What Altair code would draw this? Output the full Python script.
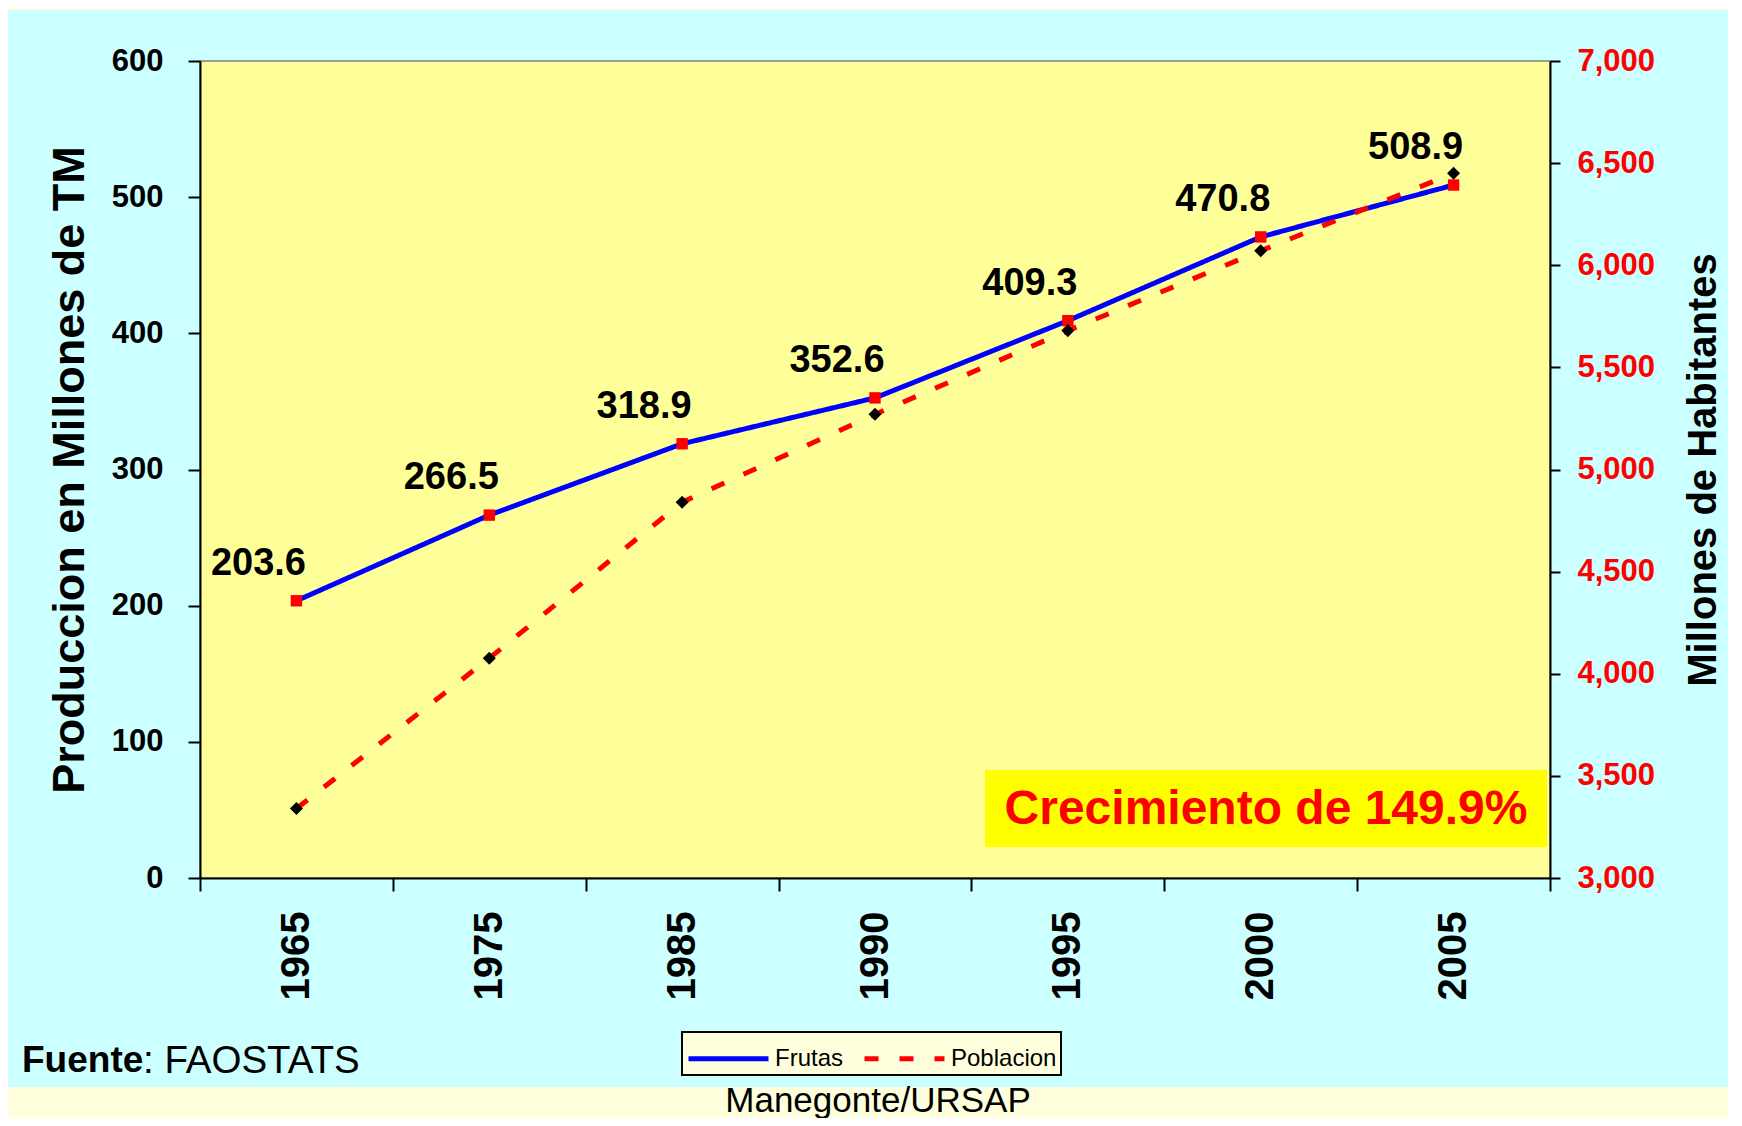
import altair as alt
import pandas as pd

years = ["1965", "1975", "1985", "1990", "1995", "2000", "2005"]
frutas = [203.6, 266.5, 318.9, 352.6, 409.3, 470.8, 508.9]
poblacion = [3340, 4076, 4840, 5270, 5680, 6071, 6450]
series = ["Frutas", "Poblacion"]
left_ticks = [0, 100, 200, 300, 400, 500, 600]
right_ticks = [3000, 3500, 4000, 4500, 5000, 5500, 6000, 6500, 7000]

FONT = "Liberation Sans"
OUTER = "#FFFFDD"
CYAN = "#CCFFFF"
PLOT = "#FFFF99"

W, H = 1350, 817
TOTAL_H = 1110

df_f = pd.DataFrame({"year": years, "valor": frutas, "serie": "Frutas",
                     "label": [f"{v:.1f}" for v in frutas]})
df_p = pd.DataFrame({"year": years, "valor": poblacion, "serie": "Poblacion"})
one = pd.DataFrame({"k": [0]})

xaxis = alt.Axis(orient="bottom", title=None, labelAngle=270, labelFont=FONT,
                 labelFontSize=40, labelFontWeight="bold", labelColor="black",
                 labelPadding=20, tickSize=13, tickWidth=2, tickColor="black",
                 domainColor="black", domainWidth=2, tickBand="extent",
                 grid=False, zindex=1)
xscale = alt.Scale(type="band", domain=years, paddingInner=0, paddingOuter=0)


def X():
    return alt.X("year:O", scale=xscale, axis=xaxis, bandPosition=0.5)


yaxis_l = alt.Axis(orient="left", values=left_ticks, format="d", labelFont=FONT,
                   labelFontSize=31, labelFontWeight="bold", labelColor="black",
                   labelPadding=25, tickSize=12, tickWidth=2, tickColor="black",
                   domainColor="black", domainWidth=2, grid=False,
                   title="Produccion en Millones de TM", titleFont=FONT,
                   titleFontSize=45, titleFontWeight="bold", titleColor="black",
                   titleAngle=270, titleX=-131, titleY=H / 2, titleAlign="center",
                   titleBaseline="middle", zindex=1)
yaxis_r = alt.Axis(orient="right", values=right_ticks, format=",.0f", labelFont=FONT,
                   labelFontSize=31, labelFontWeight="bold", labelColor="#FF0000",
                   labelPadding=17, tickSize=10, tickWidth=2, tickColor="black",
                   domainColor="black", domainWidth=2, grid=False,
                   title="Millones de Habitantes", titleFont=FONT,
                   titleFontSize=40, titleFontWeight="bold", titleColor="black",
                   titleAngle=270, titleX=153, titleY=H / 2, titleAlign="center",
                   titleBaseline="middle", zindex=1)

yl = alt.Y("valor:Q", scale=alt.Scale(domain=[0, 600], nice=False, zero=False), axis=yaxis_l)
yr = alt.Y("valor:Q", scale=alt.Scale(domain=[3000, 7000], nice=False, zero=False), axis=yaxis_r)

leg = alt.Legend(orient="none", legendX=482, legendY=971, direction="horizontal",
                 title=None, fillColor=OUTER, strokeColor="black",
                 padding=4, labelFont=FONT, labelFontSize=24, labelColor="black",
                 symbolType="M-1,0H3", symbolSize=1600, symbolStrokeWidth=5,
                 labelOffset=44, columnPadding=10, zindex=2)
color = alt.Color("serie:N", scale=alt.Scale(domain=series, range=["#0000FF", "#FF0000"]), legend=leg)
dash = alt.StrokeDash("serie:N", scale=alt.Scale(domain=series, range=[[1, 0], [14, 21]]), legend=leg)

bg_cyan = alt.Chart(one).mark_rect(color=CYAN).encode(
    x=alt.value(-193), x2=alt.value(1530), y=alt.value(-51), y2=alt.value(1026))
bg_plot = alt.Chart(one).mark_rect(color=PLOT, stroke="#808080", strokeWidth=1.5).encode(
    x=alt.value(0), x2=alt.value(W), y=alt.value(0), y2=alt.value(H))
box = alt.Chart(one).mark_rect(color="#FFFF00").encode(
    x=alt.value(785), x2=alt.value(1347), y=alt.value(709), y2=alt.value(786))
box_txt = alt.Chart(one).mark_text(font=FONT, fontSize=48, fontWeight="bold",
                                   color="#FF0000", align="center", baseline="middle").encode(
    x=alt.value(1066), y=alt.value(749), text=alt.value("Crecimiento de 149.9%"))
fuente_b = alt.Chart(one).mark_text(font=FONT, fontSize=37, fontWeight="bold",
                                    color="black", align="left", baseline="middle").encode(
    x=alt.value(-178), y=alt.value(1000), text=alt.value("Fuente"))
fuente_n = alt.Chart(one).mark_text(font=FONT, fontSize=38.5, color="black",
                                    align="left", baseline="middle").encode(
    x=alt.value(-57), y=alt.value(1000), text=alt.value(": FAOSTATS"))
autor = alt.Chart(one).mark_text(font=FONT, fontSize=35, color="black",
                                 align="center", baseline="alphabetic").encode(
    x=alt.value(678), y=alt.value(1051), text=alt.value("Manegonte/URSAP"))

line_f = alt.Chart(df_f).mark_line(strokeWidth=5).encode(x=X(), y=yl, color=color, strokeDash=dash)
pts_f = alt.Chart(df_f).mark_point(shape="square", filled=True, size=130, color="#FF0000",
                                   opacity=1).encode(x=X(), y=yl)
txt_f = alt.Chart(df_f).mark_text(font=FONT, fontSize=38, fontWeight="bold", color="black",
                                  align="center", baseline="middle", dx=-38, dy=-37).encode(
    x=X(), y=yl, text="label:N")
frutas_layer = alt.layer(line_f, pts_f, txt_f)

line_p = alt.Chart(df_p).mark_line(strokeWidth=5).encode(x=X(), y=yr, color=color, strokeDash=dash)
pts_p = alt.Chart(df_p).mark_point(shape="diamond", filled=True, size=170, color="black",
                                   opacity=1).encode(x=X(), y=yr)
pob_layer = alt.layer(line_p, pts_p)

chart = alt.layer(
    bg_cyan, bg_plot, box, box_txt, fuente_b, fuente_n, autor, frutas_layer, pob_layer
).resolve_scale(y="independent").properties(
    width=W, height=H,
    padding={"left": 192, "top": 53, "right": 178, "bottom": TOTAL_H - 53 - H},
    autosize=alt.AutoSizeParams(type="none"),
    background=OUTER,
).configure_view(stroke=None).configure_legend(strokeWidth=2)

chart.save("out.html", embed_options={"renderer": "svg", "actions": False})
